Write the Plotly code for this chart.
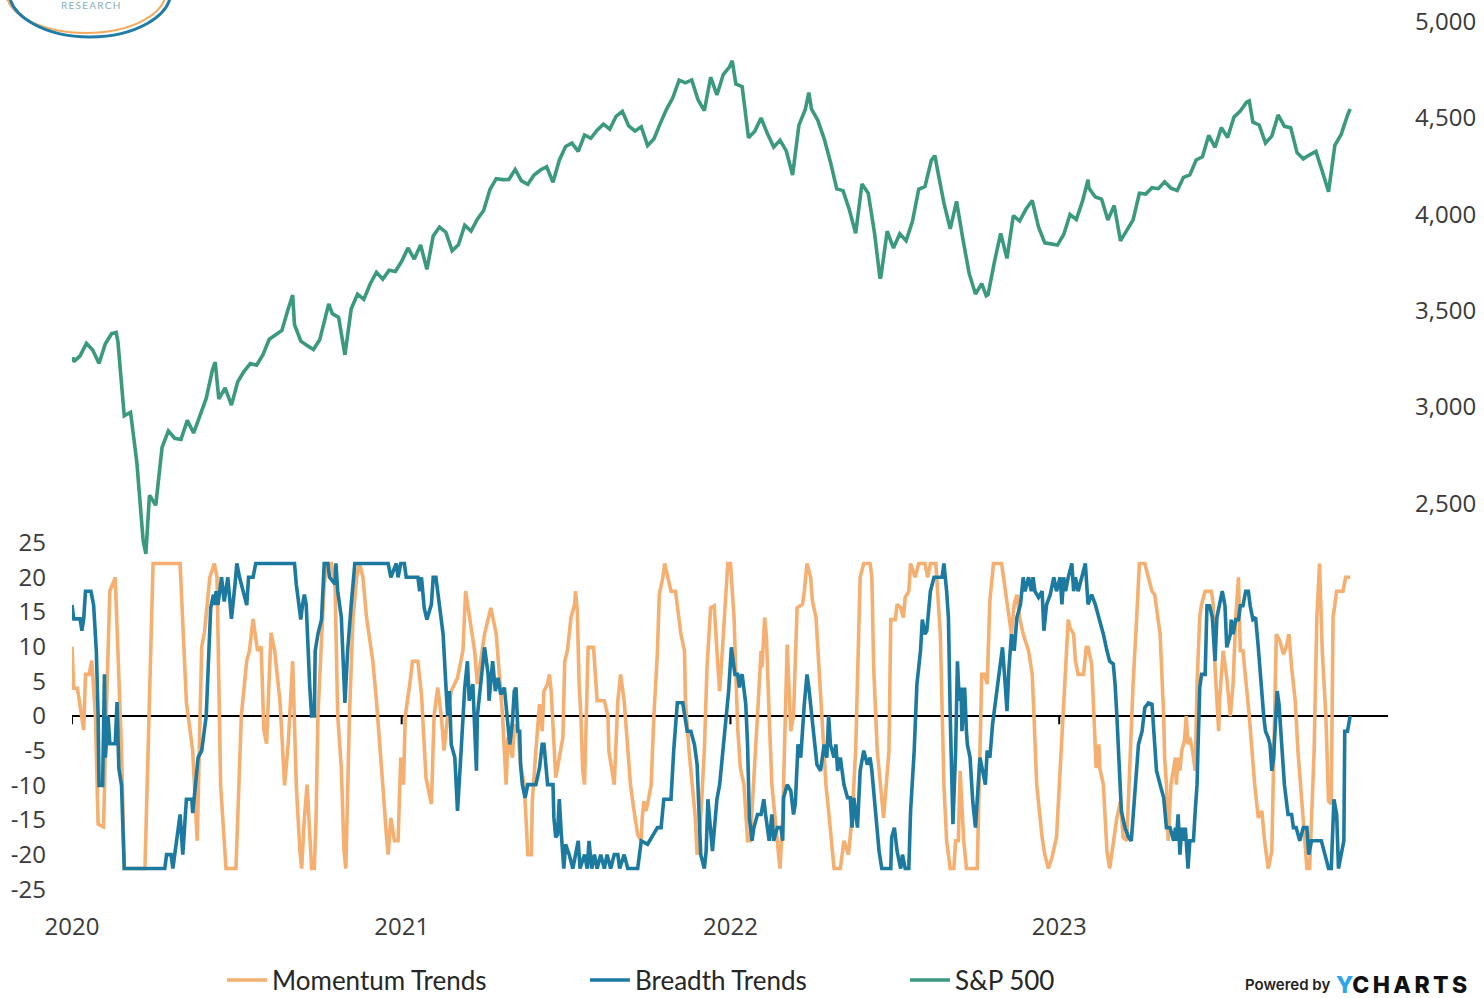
import pandas as pd
import plotly.graph_objects as go

# ---------------------------------------------------------------------------
# Data
# ---------------------------------------------------------------------------
START = pd.Timestamp("2020-01-01")

# S&P 500 weekly closes (Fridays, 2020-01-03 .. 2023-11-17)
sp_weekly_close = [
    # 2020
    3235, 3265, 3330, 3295, 3225, 3328, 3380, 3338, 2954, 2972, 2711, 2305, 2541,
    2489, 2790, 2875, 2837, 2831, 2930, 2864, 2955, 3044, 3194, 3041, 3098, 3009,
    3130, 3185, 3225, 3216, 3271, 3351, 3373, 3397, 3508, 3427, 3341, 3319, 3298,
    3348, 3477, 3484, 3465, 3270, 3510, 3585, 3558, 3638, 3699, 3663, 3709, 3703,
    3756,
    # 2021
    3825, 3768, 3841, 3714, 3887, 3934, 3907, 3811, 3842, 3943, 3913, 3975, 4020,
    4129, 4185, 4180, 4181, 4233, 4174, 4156, 4204, 4230, 4247, 4166, 4281, 4352,
    4370, 4327, 4412, 4395, 4437, 4468, 4442, 4509, 4535, 4459, 4433, 4455, 4357,
    4391, 4471, 4545, 4605, 4697, 4683, 4698, 4595, 4538, 4712, 4620, 4726, 4766,
    # 2022
    4677, 4663, 4398, 4432, 4500, 4419, 4349, 4385, 4329, 4204, 4463, 4543, 4546,
    4488, 4393, 4272, 4132, 4123, 4024, 3901, 4158, 4109, 3901, 3675, 3912, 3825,
    3899, 3863, 3962, 4130, 4145, 4280, 4228, 4058, 3924, 4067, 3873, 3693, 3586,
    3640, 3583, 3752, 3901, 3771, 3993, 3965, 4026, 4072, 3934, 3852, 3845, 3840,
    # 2023
    3895, 3999, 3973, 4071, 4136, 4090, 4079, 3970, 4046, 3862, 3917, 3971, 4109,
    4105, 4138, 4133, 4169, 4136, 4124, 4192, 4205, 4282, 4299, 4410, 4348, 4450,
    4399, 4505, 4536, 4582, 4478, 4464, 4370, 4406, 4516, 4457, 4450, 4320, 4288,
    4309, 4327, 4224, 4117, 4358, 4415, 4514,
]

# Daily closes at turning points between the weekly observations
sp_daily_dates = [
    "2020-01-02", "2020-02-19", "2020-03-23", "2020-06-08", "2020-09-02",
    "2020-10-12", "2022-01-03", "2022-03-29", "2022-06-16", "2022-08-16",
    "2022-10-12", "2023-02-02", "2023-07-31", "2023-11-20",
]
sp_daily_close = [
    3258, 3386, 2237, 3232, 3580,
    3535, 4797, 4632, 3667, 4305,
    3577, 4180, 4589, 4547,
]

# Momentum Trends: days after 2020-01-01 and indicator value
momentum_day = [
    0, 2, 6, 13, 15, 19, 22, 26, 29, 35, 38, 42, 48, 51, 55, 58, 81, 90, 120, 127,
    131, 134, 139, 142, 144, 147, 153, 158, 161, 165, 171, 182, 188, 194, 197, 201,
    206, 210, 213, 216, 221, 225, 231, 236,
    240, 245, 249, 253, 255, 258, 261, 264, 266, 269, 271, 273, 277, 280, 284, 288,
    292, 295, 299, 302, 304, 308, 312, 316, 319, 323, 327, 330, 334, 338, 341, 345,
    349, 351, 354, 358, 362, 364, 365, 368, 370, 375, 378, 384, 388, 393, 399, 402,
    406, 410, 413, 417, 421, 428, 434, 437, 441, 447, 450, 454, 458, 465, 471, 478,
    480, 482, 484, 487, 489, 491, 495, 498, 502, 504, 506, 510, 511, 515, 519, 522,
    524, 528, 530, 532, 535, 537, 541, 545, 547, 550, 554, 558, 559, 561, 563, 565,
    567, 569, 571, 573, 579, 582, 583, 591, 595, 596, 600, 602, 606, 609, 613, 617,
    620, 624, 628, 632, 633, 635, 637, 639, 643, 646, 650, 652, 656, 658, 661, 665,
    670, 674, 676, 680, 681, 685, 689, 692, 694, 698, 702, 705, 709, 713, 716, 719,
    722, 726, 728,
    731, 735, 739, 742, 746, 750, 753, 757, 761, 765, 766, 769, 771, 774, 777, 783,
    786, 789, 792, 794, 798, 801, 805, 811, 813, 816, 820, 822, 826, 829, 833, 837,
    840, 844, 846, 853, 857, 862, 866, 870, 874, 875, 879, 886, 888, 890, 894, 898,
    901, 907, 909, 914, 916, 920, 923, 925, 929, 931, 936, 940, 947, 950, 953, 959,
    964, 968, 971,
    975, 979, 981, 984, 986, 990, 993, 1005, 1008, 1010, 1013, 1016, 1019, 1023,
    1032, 1036, 1040, 1043, 1046, 1049, 1052, 1056, 1062, 1066, 1068, 1071, 1077,
    1080, 1084, 1088, 1093, 1097, 1101, 1104, 1106, 1108, 1112, 1114, 1117, 1123,
    1126, 1128, 1132, 1134, 1137, 1140, 1141, 1145, 1149, 1152, 1156, 1160, 1164,
    1167, 1171, 1175, 1178, 1182, 1185, 1191, 1195, 1199, 1202, 1208, 1212, 1213,
    1215, 1217, 1220, 1223, 1225, 1226, 1228, 1230, 1232, 1235, 1237, 1239, 1241,
    1244, 1247, 1249, 1252, 1254, 1258, 1265, 1267, 1269, 1273, 1274, 1278, 1282,
    1286, 1289, 1292, 1295, 1297, 1300, 1304, 1307, 1310, 1313, 1317, 1321, 1324,
    1328, 1332, 1335, 1337, 1341, 1345, 1348, 1351, 1354, 1358, 1361, 1365, 1369,
    1371, 1374, 1376, 1379, 1382, 1385, 1388, 1392, 1395, 1398, 1400, 1404, 1407,
    1411, 1414, 1419,
]
momentum_val = [
    10, 4, 4, -2, 6, 6, 8, 0, -15.6, -16, 0, 18, 20, 9.4, -5, -22, -22, 22, 22, 2,
    -2, -5, -18, -2.6, 10, 12, 20, 22, 20, -10, -22, -22, 0, 8, 9.4, 14,
    9.4, 10, -2, -4, 12, 9.4, 2, -10,
    -4.1, 7.9, -9.9, -19.5, -22, -14.7, -9.9, -17.1, -22, -22, -14.7, 0, 11.8, 19, 22, 22,
    19, 0, -7.5, -19.5, -22, 0, 14.2, 20, 22, 20, 14.2, 11.8, 7.9, 2.2, -2.6, -9.9,
    -17.1, -20, -14.7, -18, -18, -9.9, -6, -9.9, 0, 4.6, 7.9, 7.9, 3.1, -8.9, -12.7, 0,
    4.1, 0, -5, 0, 3.6, 5.5, 9.4, 18, 14.2, 9.4, 4.6, 7.9, 11.8, 15.6, 11.8, 0,
    -6, -9.9, -3.1, -5, -6, -1.2, -2.2, -7, -9.9, -14.7, -20, -20, -12.3, -5, 1.7, -2.2,
    3.6, 4.6, 6, 3.6, -5, -8.9, -6, -3.1, 7.9, 9.4, 14.2, 16.1, 18, 15.1, 4.6, 0,
    -7.9, -9.9, 0, 9.9, 9.9, 4.6, 2.2, 2.2, 0, -5, -7.9, -9.9, 2.2, 6, 2.2, -5,
    -9.9, -13.7, -17.1, -18, -14.7, -12.3, -13.7, -12.7, -9.9, 0, 9.4, 17.5, 20, 22, 20, 18,
    18, 14.2, 11.8, 9.4, 2.2, -5, -9.9, -14.7, -20, -14.7, -5, 7, 15.6, 15.9, 9.4, 3.6,
    9.4, 19, 22,
    22, 14.2, -1.7, -7.5, -9.9, -18, -18, -9.9, 0, 9.4, 7, 14.2, 11.3, 0, -9.9, -18,
    -22, -14.7, 2.2, 10.3, -2.2, 0, 15.6, 16.1, 18, 22, 20, 16.6, 14.2, 7, -2.6, -9.9,
    -13.7, -19.5, -22, -22, -18, -20, -14.7, -5, 14.2, 20, 22, 22, 20, 7, -5, -9.9,
    -14.7, -5, 13.9, 13.9, 16.1, 15.6, 14.2, 17.1, 18, 22, 20, 22, 22, 20, 22, 22,
    11.8, -9.9, -18,
    -22, -22, -18, -18, -7.9, -18, -22, -22, -5, 6, 6, 4.6, 16.6, 22,
    22, 18, 14.2, 11.8, 16.1, 17.5, 14.2, 11.8, 9.4, 6, 0, -9.9, -17.5,
    -20, -22, -20.4, -17.5, -7.5, 1.2, 9.4, 13.9, 12.7, 11.8, 7.9, 6, 6,
    9.9, 9.9, 7.5, 1.7, -7.5, -4.1, -7.5, -9.9, -19.5, -22, -18, -14.7, -12.3,
    -17.5, -18, -5, 4.6, 14.2, 22, 22, 20, 18, 17.5, 11.8, 0, -6,
    -9.9, -18, -9.9, -7, -6, -9.9, -6, -7.9, -5, -3.6, 0, -4.1, -3.1,
    -5, -7.9, 4.6, 14.2, 16.1, 18, 18, 16.1, 7, -2.2, 2.2, 9.4, 5.5,
    0, 4.6, 14.2, 20, 9.4, 9.4, 4.6, 0, -5, -9.9, -14.7, -13.7, -18,
    -22, -19.5, 0, 11.8, 10.8, 8.9, 9.9, 11.8, 7, 2.2, -5, -12.3, -19.5,
    -22, -22, -13.7, -5, 14.2, 22, 9.4, 0, -12.3, -12.7, 14.2, 18, 18,
    18, 20, 20,
]

# Breadth Trends: days after 2020-01-01 and indicator value
breadth_day = [
    0, 2, 9, 11, 13, 15, 21, 24, 27, 29, 30, 34, 36, 37, 40, 42, 48, 50, 52, 55,
    58, 103, 105, 110, 112, 116, 120, 123, 127, 133, 134, 140, 144, 147, 149, 152,
    154, 157, 158, 160, 162, 166, 169, 173, 177, 181, 183, 186, 190, 194, 196, 201,
    204,
    247, 249, 253, 254, 256, 258, 260, 262, 264, 266, 269, 270, 273, 277, 280, 284,
    286, 292, 293, 295, 299, 303, 306, 310, 314, 351, 354, 360, 362, 365, 369, 371,
    384, 386, 388, 391, 394, 399, 401, 404, 408, 412, 415, 417, 419, 421, 425, 428,
    432, 436, 439, 441, 445, 449, 450, 453, 458, 462, 463, 467, 470, 473, 476, 480,
    483,
    486, 487, 489, 491, 493, 495, 497, 498, 500, 503, 506, 515, 519, 522, 524, 528,
    534, 535, 537, 539, 541, 543, 546, 548, 552, 556, 559, 562, 564, 569, 572, 574,
    577, 580, 583, 587, 591, 594, 598, 602, 606, 608, 613, 617, 628, 632, 639, 650,
    654, 657, 665, 668, 672, 678, 683, 687, 691, 694, 698, 702, 704, 706, 711, 716,
    719, 724, 729,
    732, 734, 736, 739, 741, 742, 744, 748, 750, 752, 753, 755, 757, 761, 765, 768,
    770, 772, 774, 777, 779, 783, 787, 789, 790, 794, 798, 801, 803, 806, 809, 813,
    816, 818, 820, 824, 827, 831, 835, 838, 840, 842, 846, 848, 850, 853, 857, 861,
    864, 866, 868, 872, 875, 879, 883, 886, 888, 892, 896, 899, 909, 910, 913, 916,
    920, 922, 925, 929, 931, 935, 938, 942, 944, 947, 949, 953, 957, 966, 968, 971,
    973,
    975, 978, 981, 983, 985, 987, 988, 991, 993, 994, 997, 1000, 1003, 1005, 1008,
    1011, 1014, 1016, 1019, 1022, 1025, 1029, 1031, 1033, 1036, 1038, 1040, 1042,
    1043, 1046, 1049, 1053, 1056, 1058, 1062, 1065, 1067, 1069, 1073, 1077, 1079,
    1082, 1086, 1090, 1093, 1097, 1099, 1101, 1103, 1106, 1110, 1112, 1114, 1117,
    1121, 1125, 1127, 1128, 1132, 1136, 1141, 1145, 1149, 1152, 1156, 1158, 1160,
    1163, 1165, 1169, 1173, 1176, 1180, 1184, 1188, 1191, 1195, 1199, 1201, 1204,
    1208, 1212,
    1215, 1219, 1223, 1225, 1226, 1228, 1230, 1232, 1234, 1236, 1237, 1239, 1241,
    1245, 1247, 1249, 1250, 1252, 1254, 1258, 1260, 1263, 1266, 1269, 1271, 1274,
    1277, 1280, 1282, 1286, 1287, 1289, 1292, 1295, 1297, 1300, 1303, 1306, 1308,
    1311, 1314, 1317, 1321, 1323, 1325, 1328, 1330, 1332, 1334, 1335, 1337, 1338,
    1340, 1342, 1344, 1346, 1350, 1354, 1356, 1359, 1363, 1367, 1371, 1373, 1376,
    1380, 1383, 1387, 1391, 1395, 1398, 1401, 1404, 1406, 1409, 1412, 1413, 1416,
    1419,
]
breadth_val = [
    16, 14, 14, 12.3, 14, 18, 18, 16, 9.4, 0, -10, -10, 6, -6, 0, -4, -4, 2, -7.5, -10,
    -22, -22, -20, -20, -22, -18, -14.2, -20, -12, -12, -14, -6, -5, -2, 0, 9.4,
    15.6, 17.5, 16, 18, 16, 20, 16.5, 20, 14, 19, 22, 20, 18, 16, 20, 20,
    22,
    22, 19, 15.6, 13.9, 16.1, 17.5, 16.1, 9.4, 4.1, 0, 0, 9.4, 11.8, 13.9, 22, 22,
    20, 19, 22, 18, 14.2, 1.9, 9.4, 16.1, 22, 22, 20, 22, 20, 22, 22, 20,
    20, 18, 20, 15.6, 13.9, 16.1, 20, 20, 16.1, 11.8, 4.6, 0, 3.6, -4.1, -6, -13.7,
    -5, 4.1, 7.9, 2.2, 4.6, -7.9, 0, 3.6, 9.9, 6, 2.2, 7.9, 3.6, 5.5, 3.1, 4.1,
    0,
    -4.1, -3.1, -0.7, 3.6, 4.1, -2.2, -2.2, -7, -9.9, -11.8, -9.9, -9.9, -7.5, -4.1, -4.1, -9.9,
    -9.9, -14.7, -17.5, -17.1, -12, -16.6, -22, -18.5, -20, -22, -20, -18, -22, -20, -22, -18,
    -22, -20, -22, -20, -22, -20, -22, -20, -20, -22, -20, -22, -22, -18, -18.5, -16.1,
    -16.1, -12, -12, -5, 1.9, 1.9, -2.2, -2.2, -4.1, -7, -20, -22, -19.5, -12, -19.5, -12,
    -9.9, -3, 3.6,
    9.9, 7.9, 6, 6, 4.1, 5.5, 6, 1.7, -4.1, -14.7, -16.1, -18, -16.1, -14.2, -14.2, -12,
    -14.2, -16.1, -18, -14.2, -18, -16.1, -16.1, -18, -11.8, -9.9, -10.8, -14.2, -12.7, -4.1, -6, 1.7,
    6, 4.1, 1.7, -2.2, -7, -7.9, -4.1, -6, 0, -4.1, -6, -4.1, -7.9, -6, -9.9, -11.8,
    -11.8, -16.1, -11.8, -16.1, -7.9, -5, -7, -6, -7.9, -13.7, -19.5, -22, -22, -17.5, -16.1, -19.5,
    -22, -20, -22, -22, -13.7, -5, 4.6, 9.4, 13.9, 11.8, 12.3, 18, 20, 20, 22, 18,
    14.2,
    0, -15.6, -5, 7.9, 2.2, 4.1, -2.2, 4.1, -2.2, -4.1, -6, -12.3, -16.1, -12.7, -6,
    -7.9, -9.9, -5, -6, -1.2, 1.9, 6, 7.9, 9.9, 4.6, 0.7, 6.5, 9.4,
    11.8, 9.4, 14.2, 16.1, 20, 18, 20, 18, 20, 18, 17.1, 18, 12.3,
    16.1, 17.5, 20, 18, 20, 16.1, 20, 18, 20, 22, 18, 20, 18,
    20, 22, 18, 16.1, 17.5, 16.1, 13.7, 11.8, 9.4, 7.9, 7.5, 4.6, 0,
    -9.9, -13.7, -16.1, -17.5, -18, -10.8, -4.1, -2.2, 1.2, 1.9, 1.7, -2.2, -7.9,
    -9.9, -11.8,
    -16.1, -16.1, -18, -16.1, -18, -14.2, -20, -16.1, -18, -16.1, -18, -22, -18,
    -18, -13.7, -9.9, -5, 4.1, 6, 6, 15.9, 15.9, 14.2, 7.9, 14.2, 15.9,
    18, 15.9, 9.9, 11.8, 13.9, 11.8, 13.9, 13.9, 15.9, 15.9, 18, 18, 15.9,
    13.9, 14.2, 9.9, 2.2, 0, -2.2, -3.1, -4.1, -7.9, -6, -3.1, 0, 3.6,
    1.7, -2.2, -6, -9.9, -14.2, -14.2, -16.1, -16.1, -18, -16.1, -16.1, -20, -18,
    -18, -18, -18, -20, -22, -22, -12, -14.2, -22, -20, -18, -2.2, -2.2,
    0,
]

# Axis ticks
osc_ticks = [25, 20, 15, 10, 5, 0, -5, -10, -15, -20, -25]
sp_ticks = [2500, 3000, 3500, 4000, 4500, 5000]
year_ticks = ["2020-01-01", "2021-01-01", "2022-01-01", "2023-01-01"]
year_labels = ["2020", "2021", "2022", "2023"]

# ---------------------------------------------------------------------------
# Series assembly
# ---------------------------------------------------------------------------
weekly_dates = pd.date_range("2020-01-03", periods=len(sp_weekly_close), freq="W-FRI")
sp = pd.concat([
    pd.Series(sp_weekly_close, index=weekly_dates),
    pd.Series(sp_daily_close, index=pd.to_datetime(sp_daily_dates)),
]).sort_index()

momentum_dates = START + pd.to_timedelta(momentum_day, unit="D")
breadth_dates = START + pd.to_timedelta(breadth_day, unit="D")

ORANGE = "#F5B071"
BLUE = "#1C7AA0"
GREEN = "#3B9A7D"
TEXT = "#3a3a3a"
TICK_FONT = dict(family="Open Sans", size=24, color=TEXT)
LEGEND_FONT = dict(family="Lato", size=26, color="#262626")
LINE_W = 3.6

fig = go.Figure()
fig.add_trace(go.Scatter(
    x=momentum_dates, y=momentum_val, name="Momentum Trends", mode="lines",
    line=dict(color=ORANGE, width=LINE_W), yaxis="y", legend="legend",
    showlegend=True,
))
fig.add_trace(go.Scatter(
    x=breadth_dates, y=breadth_val, name="Breadth Trends", mode="lines",
    line=dict(color=BLUE, width=LINE_W), yaxis="y", legend="legend2",
    showlegend=True,
))
fig.add_trace(go.Scatter(
    x=sp.index, y=sp.values, name="S&P 500", mode="lines",
    line=dict(color=GREEN, width=LINE_W), yaxis="y2", legend="legend3",
    showlegend=True,
))

# Zero line of the oscillator panel with year tick marks
shapes = [dict(
    type="line", xref="x", yref="y", x0="2020-01-01", x1="2024-01-01", y0=0, y1=0,
    line=dict(color="black", width=2), layer="below",
)]
for yt in year_ticks:
    shapes.append(dict(
        type="line", xref="x", yref="y", x0=yt, x1=yt, y0=0, y1=-1.2,
        line=dict(color="black", width=2), layer="below",
    ))

# Logo rings (top-left corner)
shapes.append(dict(type="circle", xref="paper", yref="paper",
                   x0=-0.0502, x1=0.0714, y0=0.9637, y1=1.055,
                   line=dict(color="#F3A95E", width=2)))
shapes.append(dict(type="circle", xref="paper", yref="paper",
                   x0=-0.0479, x1=0.0752, y0=0.9593, y1=1.0604,
                   line=dict(color="#1F7CA6", width=3)))

legend_common = dict(
    orientation="h", yanchor="middle", y=-0.077, xanchor="left",
    font=LEGEND_FONT, bgcolor="rgba(0,0,0,0)", itemwidth=40,
)

fig.update_layout(
    width=1484, height=998,
    margin=dict(l=72, r=96, t=0, b=88, autoexpand=False),
    paper_bgcolor="white", plot_bgcolor="white",
    hovermode=False,
    showlegend=True,
    shapes=shapes,
    xaxis=dict(
        type="date", range=["2020-01-01", "2024-01-01"],
        tickvals=year_ticks, ticktext=year_labels, tickfont=TICK_FONT,
        showgrid=False, zeroline=False, showline=False, ticks="",
    ),
    yaxis=dict(
        range=[-27.98, 103.26], tickvals=osc_ticks,
        ticktext=[str(v) for v in osc_ticks], tickfont=TICK_FONT,
        showgrid=False, zeroline=False, showline=False, ticks="",
        ticklabelstandoff=25,
    ),
    yaxis2=dict(
        range=[387, 5113], overlaying="y", side="right", tickvals=sp_ticks,
        tickformat=",", tickfont=TICK_FONT,
        showgrid=False, zeroline=False, showline=False, ticks="",
        ticklabelstandoff=26,
    ),
    legend=dict(legend_common, x=0.1140),
    legend2=dict(legend_common, x=0.3898),
    legend3=dict(legend_common, x=0.633),
    annotations=[
        dict(text="R\u2009E\u2009S\u2009E\u2009A\u2009R\u2009C\u2009H", xref="paper", yref="paper",
             x=0.0137, y=0.9945, xanchor="center", yanchor="middle", showarrow=False,
             font=dict(family="Lato", size=10, color="#86adc0")),
        dict(text="Powered by", xref="paper", yref="paper", x=0.9574, y=-0.0824,
             xanchor="right", yanchor="middle", showarrow=False,
             font=dict(family="Inter", size=15, color="#222222", weight=600)),
        dict(text='<span style="color:#2BA4EA">Y</span>C\u2009H\u2009A\u2009R\u2009T\u2009S',
             xref="paper", yref="paper", x=0.9590, y=-0.0824,
             xanchor="left", yanchor="middle", showarrow=False,
             font=dict(family="Inter", size=23, color="#111111", weight=800)),
    ],
)

fig.write_html("out.html")
